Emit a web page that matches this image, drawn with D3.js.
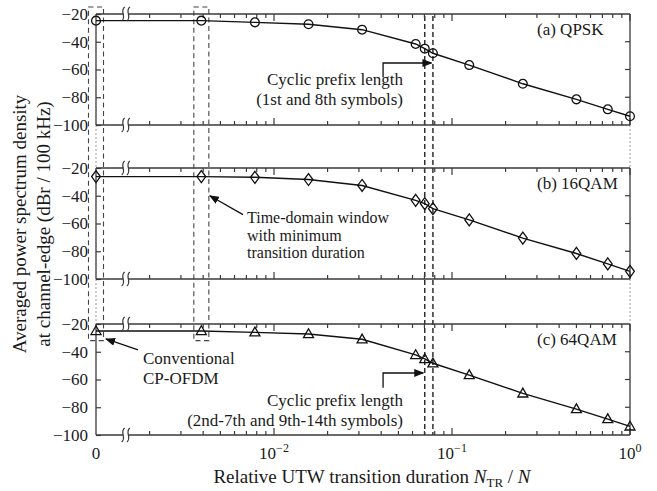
<!DOCTYPE html>
<html><head><meta charset="utf-8">
<script src="https://cdn.jsdelivr.net/npm/d3@7"></script>
<style>
body{margin:0;background:#fff}
text{font-family:"Liberation Serif","Times New Roman",serif;fill:#1a1a1a}
</style>
</head><body><svg id="c" width="657" height="491"></svg>
<script>
// ---------------- data ----------------
const xValues = [0, 4/1024, 8/1024, 16/1024, 32/1024, 64/1024, 72/1024, 80/1024, 128/1024, 256/1024, 512/1024, 768/1024, 1];
const qpsk  = [-24.8, -24.8, -26.0, -27.4, -31.3, -41.6, -45.0, -48.3, -56.8, -70.3, -81.5, -88.7, -93.7];
const qam16 = [-26.2, -26.2, -26.7, -28.3, -32.6, -43.3, -45.7, -49.3, -57.4, -70.5, -81.6, -89.1, -94.5];
const qam64 = [-25.0, -25.0, -26.0, -27.2, -31.0, -42.3, -45.2, -48.3, -56.8, -70.0, -81.3, -88.5, -93.8];
const panelNames = ["(a) QPSK", "(b) 16QAM", "(c) 64QAM"];
const markerTypes = ["circle", "diamond", "triangle"];
const yTicks = [-20, -40, -60, -80, -100];
const yTickLabels = ["−20", "−40", "−60", "−80", "−100"];
const xLabelTicks = [0, 1e-2, 1e-1, 1];
const xLabelBase = ["0", "10", "10", "10"];
const xLabelExp = ["", "−2", "−1", "0"];
const cpLengths = [72/1024, 80/1024];       // cyclic prefix lengths
const windowBoxes = [0, 4/1024];            // highlighted columns
const yTitle = ["Averaged power spectrum density", "at channel-edge (dBr / 100 kHz)"];

// ---------------- layout ----------------
const svg = d3.select("#c");
const axisColor = "#3d3838";
const L = 96, R = 630;
const panelTops = [14, 168, 324];
const panelH = 111;
const x = d3.scaleLog().domain([1e-3, 1]).range([L, R]);
const xp = v => v === 0 ? x(1e-3) : x(v);
const breakX = x(0.00147);
const yScales = panelTops.map(t => d3.scaleLinear().domain([-100, -20]).range([t + panelH, t]));
const series = [qpsk, qam16, qam64];

svg.append("defs").append("marker")
  .attr("id", "ah").attr("markerUnits", "userSpaceOnUse")
  .attr("markerWidth", 10).attr("markerHeight", 8)
  .attr("refX", 9).attr("refY", 4).attr("orient", "auto")
  .append("path").attr("d", "M0,0 L10,4 L0,8 Z").attr("fill", "#111");

[0, 1].forEach(v => {
  for (let i = 0; i < 2; i++) {
    svg.append("line")
      .attr("x1", xp(v)).attr("x2", xp(v))
      .attr("y1", panelTops[i] + panelH).attr("y2", panelTops[i + 1])
      .attr("stroke", "#999").attr("stroke-width", 1).attr("stroke-dasharray", "2,2");
  }
});

windowBoxes.forEach(v => {
  svg.append("rect")
    .attr("x", xp(v) - 7.5).attr("width", 15)
    .attr("y", panelTops[0] - 7).attr("height", yScales[2](-32) - (panelTops[0] - 7))
    .attr("fill", "none").attr("stroke", "#444").attr("stroke-width", 1.1)
    .attr("stroke-dasharray", "5,3.5");
});

cpLengths.forEach(v => {
  svg.append("line")
    .attr("x1", x(v)).attr("x2", x(v))
    .attr("y1", panelTops[0] + 2).attr("y2", panelTops[2] + panelH)
    .attr("stroke", "#111").attr("stroke-width", 1.3).attr("stroke-dasharray", "5,3");
});

const allTicks = x.ticks().filter(v => v > 1.01e-3);
const isMajor = v => Math.abs(Math.log10(v) - Math.round(Math.log10(v))) < 1e-6;

panelTops.forEach((top, i) => {
  const y = yScales[i];
  const g = svg.append("g");
  const bottom = top + panelH;
  [L, R].forEach(xx => g.append("line").attr("x1", xx).attr("x2", xx).attr("y1", top).attr("y2", bottom)
    .attr("stroke", axisColor).attr("stroke-width", 1.3));
  [top, bottom].forEach(yy => {
    g.append("line").attr("x1", L).attr("x2", R).attr("y1", yy).attr("y2", yy)
      .attr("stroke", axisColor).attr("stroke-width", 1.3);
    g.selectAll(null).data(allTicks).enter().append("line")
      .attr("x1", d => x(d)).attr("x2", d => x(d))
      .attr("y1", yy).attr("y2", d => yy + (yy === top ? 1 : -1) * (isMajor(d) ? 7 : 4))
      .attr("stroke", axisColor).attr("stroke-width", 1.2);
  });
  const la = d3.axisLeft(y).tickValues(yTicks).tickSizeInner(-5).tickSizeOuter(0).tickPadding(8)
    .tickFormat((d, k) => yTickLabels[k]);
  const lg = g.append("g").attr("transform", `translate(${L},0)`).call(la);
  lg.select(".domain").remove();
  lg.selectAll("line").attr("stroke", axisColor).attr("stroke-width", 1.2);
  lg.selectAll("text").style("font-size", "17px").style("font-family", '"Liberation Serif",serif').attr("fill", "#1a1a1a");
  g.selectAll(null).data(yTicks.slice(1, 4)).enter().append("line")
    .attr("x1", R).attr("x2", R - 5).attr("y1", d => y(d)).attr("y2", d => y(d))
    .attr("stroke", axisColor).attr("stroke-width", 1.2);

  const data = xValues.map((v, k) => [v, series[i][k]]);
  g.append("path").datum(data)
    .attr("d", d3.line().x(d => xp(d[0])).y(d => y(d[1])))
    .attr("fill", "none").attr("stroke", "#111").attr("stroke-width", 1.4);

  [top, bottom].forEach(yy => {
    g.append("rect").attr("x", breakX - 2.6).attr("width", 5.2).attr("y", yy - 3).attr("height", 6).attr("fill", "#fff");
    [-2.6, 2.6].forEach(o => {
      const cx = breakX + o;
      g.append("path")
        .attr("d", `M${cx + 1.5},${yy - 7} C${cx - 4},${yy - 3} ${cx + 4},${yy + 3} ${cx - 1.5},${yy + 7}`)
        .attr("fill", "none").attr("stroke", axisColor).attr("stroke-width", 1.2);
    });
  });

  const mk = g.selectAll(null).data(data).enter().append("path")
    .attr("transform", d => `translate(${xp(d[0])},${y(d[1])})`)
    .attr("fill", "none").attr("stroke", "#111").attr("stroke-width", 1.3);
  if (markerTypes[i] === "circle") mk.attr("d", "M4.4,0 A4.4,4.4 0 1,1 -4.4,0 A4.4,4.4 0 1,1 4.4,0 Z");
  else if (markerTypes[i] === "diamond") mk.attr("d", "M0,-6 L4.4,0 L0,6 L-4.4,0 Z");
  else mk.attr("d", "M0,-5.2 L5,3.6 L-5,3.6 Z");

  g.append("text").attr("x", 537).attr("y", top + 21).style("font-size", "17px").text(panelNames[i]);
});

const yb = panelTops[2] + panelH;
xLabelTicks.forEach((v, k) => {
  const t = svg.append("text").attr("x", xp(v)).attr("y", yb + 24)
    .attr("text-anchor", "middle").style("font-size", "17px");
  t.append("tspan").text(xLabelBase[k]);
  if (xLabelExp[k]) t.append("tspan").attr("dy", -7).style("font-size", "12px").text(xLabelExp[k]);
});

yTitle.forEach((s, k) => {
  svg.append("text").attr("transform", `translate(${26 + k * 24},224) rotate(-90)`)
    .attr("text-anchor", "middle").style("font-size", "19px").text(s);
});
const xt = svg.append("text").attr("x", 372).attr("y", 483).attr("text-anchor", "middle").style("font-size", "19px");
xt.append("tspan").text("Relative UTW transition duration ");
xt.append("tspan").style("font-style", "italic").text("N");
xt.append("tspan").attr("dy", 4).style("font-size", "13px").text("TR");
xt.append("tspan").attr("dy", -4).text(" / ");
xt.append("tspan").style("font-style", "italic").text("N");

// ---------------- annotations ----------------
const ya = yScales[0], yB = yScales[1], yc = yScales[2];
const ann = (lines, anchor, xx, y0, fs, gap) => {
  lines.forEach((s, k) => svg.append("text").attr("x", xx).attr("y", y0 + k * gap)
    .attr("text-anchor", anchor).style("font-size", fs + "px").text(s));
};
const ax0 = x(0.041);
svg.append("path").attr("d", `M${ax0},${ya(-65.5)} V${ya(-55.3)} H${x(80/1024) - 1.5}`)
  .attr("fill", "none").attr("stroke", "#111").attr("stroke-width", 1.3).attr("marker-end", "url(#ah)");
ann(["Cyclic prefix length", "(1st and 8th symbols)"], "end", 403, ya(-71), 17, 20);

svg.append("line").attr("x1", 243).attr("y1", yB(-53.6)).attr("x2", xp(4/1024) + 8.5).attr("y2", yB(-40))
  .attr("stroke", "#111").attr("stroke-width", 1.3).attr("marker-end", "url(#ah)");
ann(["Time-domain window", "with minimum", "transition duration"], "start", 247, yB(-59.8), 16, 17.5);

svg.append("line").attr("x1", 138).attr("y1", yc(-38.7)).attr("x2", xp(0) + 10).attr("y2", yc(-30.8))
  .attr("stroke", "#111").attr("stroke-width", 1.3).attr("marker-end", "url(#ah)");
ann(["Conventional", "CP-OFDM"], "start", 143, yc(-49.1), 17, 20);

svg.append("path").attr("d", `M${ax0},${yc(-66)} V${yc(-55.3)} H${x(72/1024) - 1.5}`)
  .attr("fill", "none").attr("stroke", "#111").attr("stroke-width", 1.3).attr("marker-end", "url(#ah)");
ann(["Cyclic prefix length", "(2nd-7th and 9th-14th symbols)"], "end", 403, yc(-79), 17, 20);
</script></body></html>
